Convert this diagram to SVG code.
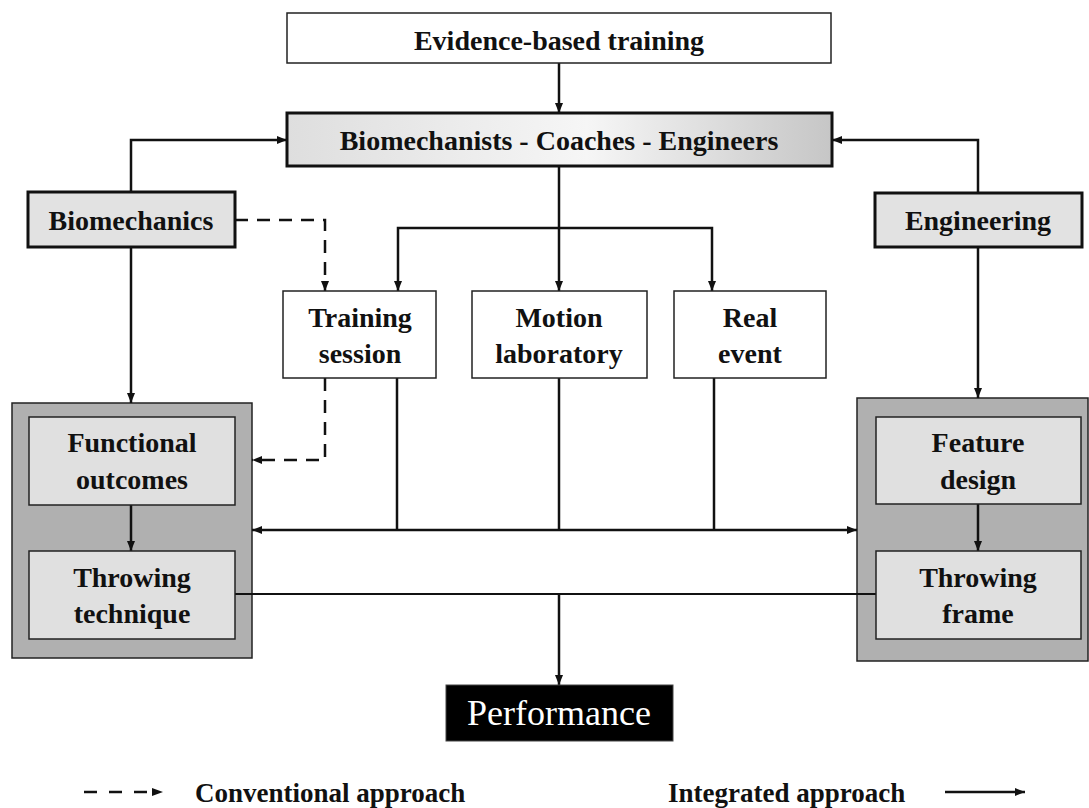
<svg xmlns="http://www.w3.org/2000/svg" width="1089" height="808" viewBox="0 0 1089 808">
<style>
  .t { font-family: "Liberation Serif", "Times New Roman", serif; font-weight: bold; font-size: 28px; fill: #111; text-anchor: middle; }
  .lg { font-family: "Liberation Serif", "Times New Roman", serif; font-weight: bold; font-size: 27px; fill: #111; }
  .perf { font-family: "Liberation Serif", "Times New Roman", serif; font-size: 36px; fill: #fff; text-anchor: middle; }
  .thin { stroke: #222; stroke-width: 1.5; }
  .thick { stroke: #111; stroke-width: 3; }
  .c { fill: none; stroke: #111; stroke-width: 2.5; }
  .d { fill: none; stroke: #111; stroke-width: 2.5; stroke-dasharray: 13 9; }
</style>
<defs>
  <marker id="ah" viewBox="0 0 10 8" refX="10" refY="4" markerWidth="10" markerHeight="8" markerUnits="userSpaceOnUse" orient="auto">
    <path d="M0,0 L10,4 L0,8 z" fill="#111"/>
  </marker>
  <linearGradient id="g" x1="0" y1="0" x2="1" y2="0">
    <stop offset="0" stop-color="#dedede"/>
    <stop offset="0.55" stop-color="#f6f6f6"/>
    <stop offset="1" stop-color="#c6c6c6"/>
  </linearGradient>
</defs>

<g id="containers">
  <rect x="12" y="403" width="240" height="255" fill="#b0b0b0" class="thin"/>
  <rect x="857" y="398" width="231" height="263" fill="#b0b0b0" class="thin"/>
</g>

<g id="connectors">
  <path class="c" d="M559,63 V113" marker-end="url(#ah)"/>
  <path class="c" d="M131,192 V140 H287" marker-end="url(#ah)"/>
  <path class="c" d="M978,192 V140 H832" marker-end="url(#ah)"/>
  <path class="c" d="M559,166 V291" marker-end="url(#ah)"/>
  <path class="c" d="M559,228 H398 V291" marker-end="url(#ah)"/>
  <path class="c" d="M559,228 H712 V291" marker-end="url(#ah)"/>
  <path class="c" d="M131,247 V403" marker-end="url(#ah)"/>
  <path class="c" d="M978,247 V398" marker-end="url(#ah)"/>
  <path class="d" d="M235,220 H325 V291" marker-end="url(#ah)"/>
  <path class="d" d="M325,378 V460 H252" marker-end="url(#ah)"/>
  <path class="c" d="M397,378 V530"/>
  <path class="c" d="M559,378 V530"/>
  <path class="c" d="M714,378 V530"/>
  <path class="c" d="M559,530 H252" marker-end="url(#ah)"/>
  <path class="c" d="M559,530 H857" marker-end="url(#ah)"/>
  <path class="c" d="M131,505 V551" marker-end="url(#ah)"/>
  <path class="c" d="M978,504 V551" marker-end="url(#ah)"/>
  <path class="c" d="M235,594 H876" style="stroke-width:2"/>
  <path class="c" d="M559,594 V685" marker-end="url(#ah)"/>
</g>

<g id="evidence">
  <rect x="287" y="13" width="544" height="50" fill="#fff" class="thin"/>
  <text class="t" x="559" y="50">Evidence-based training</text>
</g>
<g id="team">
  <rect x="287" y="113" width="545" height="53" fill="url(#g)" class="thick"/>
  <text class="t" x="559" y="150">Biomechanists - Coaches - Engineers</text>
</g>
<g id="biomechanics">
  <rect x="28" y="192" width="207" height="55" fill="#e2e2e2" class="thick"/>
  <text class="t" x="131" y="230">Biomechanics</text>
</g>
<g id="engineering">
  <rect x="875" y="193" width="207" height="54" fill="#e2e2e2" class="thick"/>
  <text class="t" x="978" y="230">Engineering</text>
</g>
<g id="training">
  <rect x="283" y="291" width="153" height="87" fill="#fff" class="thin"/>
  <text class="t" x="360" y="327">Training</text>
  <text class="t" x="360" y="363">session</text>
</g>
<g id="motion">
  <rect x="472" y="291" width="175" height="87" fill="#fff" class="thin"/>
  <text class="t" x="559" y="327">Motion</text>
  <text class="t" x="559" y="363">laboratory</text>
</g>
<g id="real">
  <rect x="674" y="291" width="152" height="87" fill="#fff" class="thin"/>
  <text class="t" x="750" y="327">Real</text>
  <text class="t" x="750" y="363">event</text>
</g>
<g id="functional">
  <rect x="29" y="417" width="206" height="88" fill="#e0e0e0" class="thin"/>
  <text class="t" x="132" y="452">Functional</text>
  <text class="t" x="132" y="489">outcomes</text>
</g>
<g id="technique">
  <rect x="29" y="551" width="206" height="88" fill="#e0e0e0" class="thin"/>
  <text class="t" x="132" y="587">Throwing</text>
  <text class="t" x="132" y="623">technique</text>
</g>
<g id="feature">
  <rect x="876" y="417" width="205" height="87" fill="#e0e0e0" class="thin"/>
  <text class="t" x="978" y="452">Feature</text>
  <text class="t" x="978" y="489">design</text>
</g>
<g id="frame">
  <rect x="876" y="551" width="205" height="88" fill="#e0e0e0" class="thin"/>
  <text class="t" x="978" y="587">Throwing</text>
  <text class="t" x="978" y="623">frame</text>
</g>
<g id="performance">
  <rect x="446" y="685" width="227" height="56" fill="#000" stroke="#444" stroke-width="1"/>
  <text class="perf" x="559" y="725">Performance</text>
</g>

<g id="legend">
  <path d="M84,792 H150" fill="none" stroke="#111" stroke-width="2.5" stroke-dasharray="13 12"/>
  <path d="M152,788 L163,792 L152,796 z" fill="#111"/>
  <text class="lg" x="195" y="802">Conventional approach</text>
  <text class="lg" x="668" y="802">Integrated approach</text>
  <path d="M945,792 H1025" fill="none" stroke="#111" stroke-width="2.5" marker-end="url(#ah)"/>
</g>
</svg>
